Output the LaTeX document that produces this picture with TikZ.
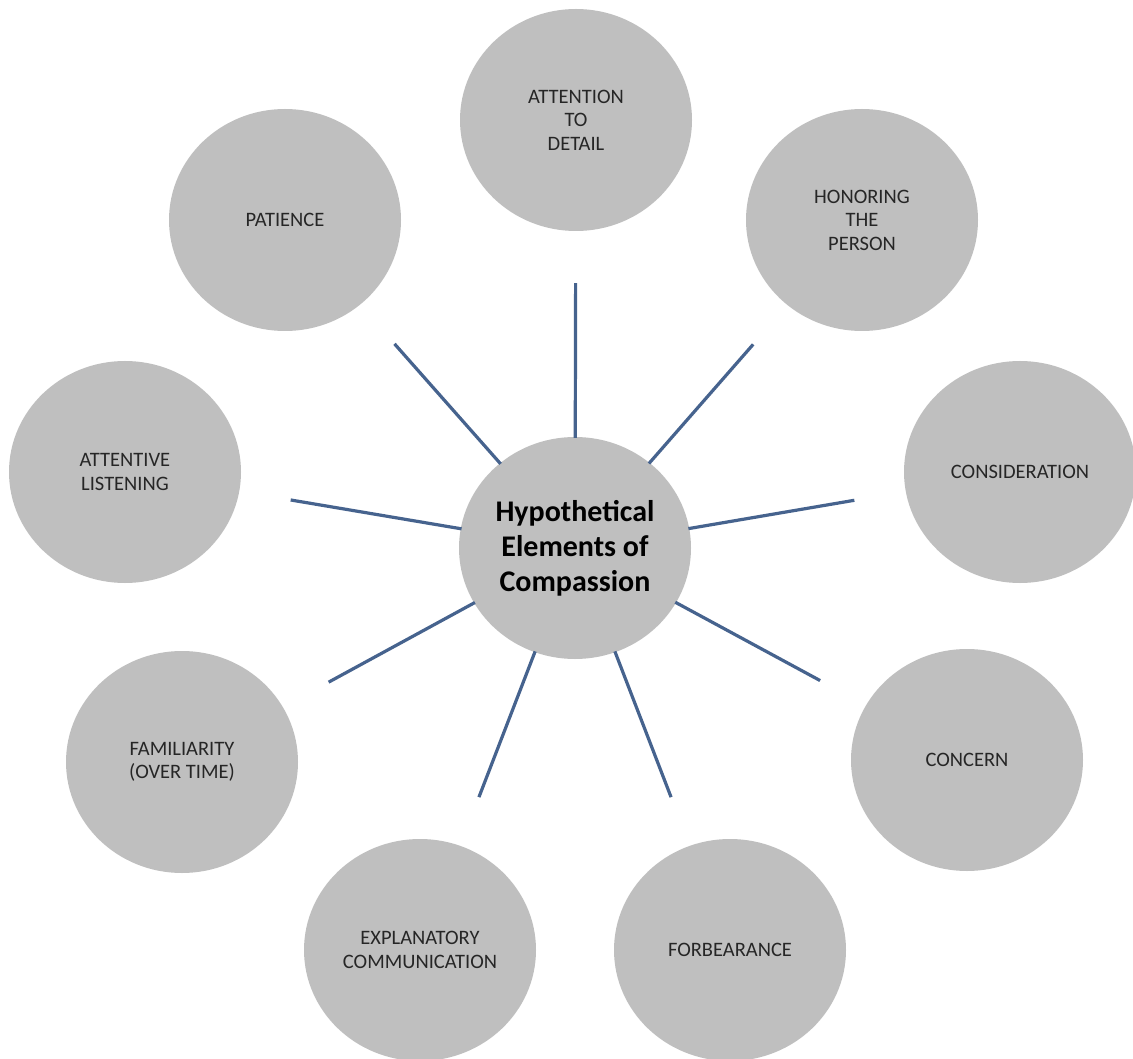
\documentclass[tikz,border=0pt]{standalone}
\usepackage{fontspec}
\setmainfont{Carlito}
\usetikzlibrary{shapes.geometric}
\definecolor{bubble}{HTML}{BFBFBF}
\definecolor{spokecol}{HTML}{46638E}
\definecolor{txt}{HTML}{262626}
\tikzset{
  bubble/.style={ellipse, fill=bubble, draw=none, minimum width=232pt, minimum height=222pt, inner sep=0pt,
    align=center, text=txt, font=\fontsize{20.5}{23.5}\selectfont},
  hub/.style={bubble, text=black, font=\fontsize{30}{35}\selectfont\bfseries},
  spoke/.style={draw=spokecol, line width=3.2pt, shorten >=52pt, shorten <=-1pt}
}
\begin{document}
\begin{tikzpicture}[x=1pt,y=-1pt]
\useasboundingbox[fill=white] (0,0) rectangle (1133,1059);
\node[hub] (c) at (575,548) {Hypothetical\\Elements of\\Compassion};
\node[bubble] (att) at (576,120) {ATTENTION\\TO\\DETAIL};
\node[bubble] (hon) at (862,220) {HONORING\\THE\\PERSON};
\node[bubble] (cons) at (1020,472) {CONSIDERATION};
\node[bubble] (conc) at (967,760) {CONCERN};
\node[bubble] (forb) at (730,950) {FORBEARANCE};
\node[bubble] (expl) at (420,950) {EXPLANATORY\\COMMUNICATION};
\node[bubble] (fam) at (182,762) {FAMILIARITY\\(OVER TIME)};
\node[bubble] (attl) at (125,472) {ATTENTIVE\\LISTENING};
\node[bubble] (pat) at (285,220) {PATIENCE};
\foreach \n in {att,hon,cons,conc,forb,expl,fam,attl,pat}
  \draw[spoke] (c) -- (\n);
\end{tikzpicture}
\end{document}
